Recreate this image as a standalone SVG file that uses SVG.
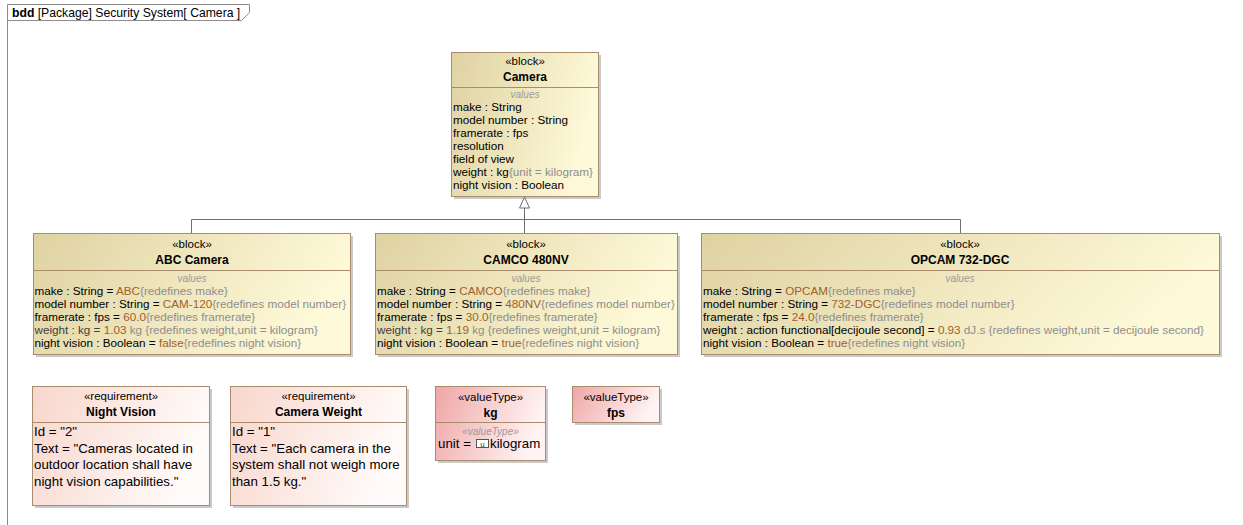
<svg xmlns="http://www.w3.org/2000/svg" width="1243" height="525" viewBox="0 0 1243 525">
  <defs>
    <linearGradient id="gBlock" x1="0" y1="0" x2="1" y2="0.25">
      <stop offset="0" stop-color="#DFD2A2"/>
      <stop offset="1" stop-color="#FEF9D8"/>
    </linearGradient>
    <linearGradient id="gReq" x1="0" y1="0" x2="1" y2="0.25">
      <stop offset="0" stop-color="#F8D6CC"/>
      <stop offset="1" stop-color="#FFFBFA"/>
    </linearGradient>
    <linearGradient id="gVal" x1="0" y1="0" x2="1" y2="0.25">
      <stop offset="0" stop-color="#EFA6A6"/>
      <stop offset="1" stop-color="#FFF3F3"/>
    </linearGradient>
    <marker id="genHead" markerWidth="14" markerHeight="12" refX="12" refY="6" orient="auto" markerUnits="userSpaceOnUse">
      <path d="M1,1 L12,6 L1,11 Z" fill="#FFFFFF" stroke="#6E6E6E" stroke-width="1"/>
    </marker>
  </defs>
  <style>
    text { font-family: "Liberation Sans", Arial, sans-serif; fill: #000; }
    .st { font-size: 11.5px; text-anchor: middle; }
    .ttl { font-size: 12px; font-weight: bold; text-anchor: middle; }
    .cmp { font-size: 10px; font-style: italic; fill: #9A9A9A; text-anchor: middle; }
    .p { font-size: 11.7px; }
    .rq { font-size: 13.3px; }
    .v { fill: #A0602A; }
    .g { fill: #8E8E8E; }
    .box { stroke: #A88C6C; stroke-width: 1; }
    .blk { fill: url(#gBlock); }
    .req { fill: url(#gReq); }
    .val { fill: url(#gVal); }
    .shd { fill: #8A8A8A; opacity: 0.45; }
    .div { stroke: #A88C6C; stroke-width: 1; }
    .conn { fill: none; stroke: #6E6E6E; stroke-width: 1; }
    .frame { fill: none; stroke: #8C8C8C; stroke-width: 1; }
  </style>

  <rect x="0" y="0" width="1243" height="525" fill="#FFFFFF"/>

  <!-- diagram frame with its name tab -->
  <g id="frame">
    <path class="frame" d="M7.5,525 L7.5,4.5 L249.5,4.5 L249.5,12.5 L241.5,20.5 L7.5,20.5"/>
    <text x="12" y="16.5" style="font-size:12.2px"><tspan font-weight="bold">bdd</tspan> [Package] Security System[ Camera ]</text>
  </g>

  <!-- generalization connectors -->
  <g id="connectors">
    <path class="conn" d="M191.5,233 L191.5,219.5 L960.5,219.5 L960.5,233"/>
    <path class="conn" d="M524.5,233 L524.5,197" marker-end="url(#genHead)"/>
  </g>

  <g id="camera">
    <rect class="shd" x="454" y="55" width="147" height="144"/>
    <rect class="box blk" x="451.5" y="52.5" width="147" height="144"/>
    <line class="div" x1="451.5" y1="87.5" x2="598.5" y2="87.5"/>
    <text class="st" x="525" y="65">«block»</text>
    <text class="ttl" x="525" y="81">Camera</text>
    <text class="cmp" x="525" y="98">values</text>
    <text class="p" x="453" y="111">make : String</text>
    <text class="p" x="453" y="124">model number : String</text>
    <text class="p" x="453" y="137">framerate : fps</text>
    <text class="p" x="453" y="150">resolution</text>
    <text class="p" x="453" y="163">field of view</text>
    <text class="p" x="453" y="176">weight : kg<tspan class="g">{unit = kilogram}</tspan></text>
    <text class="p" x="453" y="189">night vision : Boolean</text>
  </g>

  <g id="abc-camera">
    <rect class="shd" x="36" y="236" width="317" height="121"/>
    <rect class="box blk" x="33.5" y="233.5" width="317" height="121"/>
    <line class="div" x1="33.5" y1="270.5" x2="350.5" y2="270.5"/>
    <text class="st" x="192" y="248">«block»</text>
    <text class="ttl" x="192" y="264">ABC Camera</text>
    <text class="cmp" x="192" y="282">values</text>
    <text class="p" x="34.5" y="295">make : String = <tspan class="v">ABC</tspan><tspan class="g">{redefines make}</tspan></text>
    <text class="p" x="34.5" y="308">model number : String = <tspan class="v">CAM-120</tspan><tspan class="g">{redefines model number}</tspan></text>
    <text class="p" x="34.5" y="321">framerate : fps = <tspan class="v">60.0</tspan><tspan class="g">{redefines framerate}</tspan></text>
    <text class="p" x="34.5" y="334"><tspan fill="#404040">weight : kg = </tspan><tspan class="v">1.03</tspan><tspan class="g"> kg {redefines weight,unit = kilogram}</tspan></text>
    <text class="p" x="34.5" y="347">night vision : Boolean = <tspan class="v">false</tspan><tspan class="g">{redefines night vision}</tspan></text>
  </g>

  <g id="camco-480nv">
    <rect class="shd" x="378" y="236" width="302" height="121"/>
    <rect class="box blk" x="375.5" y="233.5" width="302" height="121"/>
    <line class="div" x1="375.5" y1="270.5" x2="677.5" y2="270.5"/>
    <text class="st" x="526" y="248">«block»</text>
    <text class="ttl" x="526" y="264">CAMCO 480NV</text>
    <text class="cmp" x="526" y="282">values</text>
    <text class="p" x="377" y="295">make : String = <tspan class="v">CAMCO</tspan><tspan class="g">{redefines make}</tspan></text>
    <text class="p" x="377" y="308">model number : String = <tspan class="v">480NV</tspan><tspan class="g">{redefines model number}</tspan></text>
    <text class="p" x="377" y="321">framerate : fps = <tspan class="v">30.0</tspan><tspan class="g">{redefines framerate}</tspan></text>
    <text class="p" x="377" y="334"><tspan fill="#404040">weight : kg = </tspan><tspan class="v">1.19</tspan><tspan class="g"> kg {redefines weight,unit = kilogram}</tspan></text>
    <text class="p" x="377" y="347">night vision : Boolean = <tspan class="v">true</tspan><tspan class="g">{redefines night vision}</tspan></text>
  </g>

  <g id="opcam-732-dgc">
    <rect class="shd" x="704" y="236" width="518" height="121"/>
    <rect class="box blk" x="701.5" y="233.5" width="518" height="121"/>
    <line class="div" x1="701.5" y1="270.5" x2="1219.5" y2="270.5"/>
    <text class="st" x="960" y="248">«block»</text>
    <text class="ttl" x="960" y="264">OPCAM 732-DGC</text>
    <text class="cmp" x="960" y="282">values</text>
    <text class="p" x="703" y="295">make : String = <tspan class="v">OPCAM</tspan><tspan class="g">{redefines make}</tspan></text>
    <text class="p" x="703" y="308">model number : String = <tspan class="v">732-DGC</tspan><tspan class="g">{redefines model number}</tspan></text>
    <text class="p" x="703" y="321">framerate : fps = <tspan class="v">24.0</tspan><tspan class="g">{redefines framerate}</tspan></text>
    <text class="p" x="703" y="334">weight : action functional[decijoule second] = <tspan class="v">0.93</tspan><tspan class="g"> dJ.s {redefines weight,unit = decijoule second}</tspan></text>
    <text class="p" x="703" y="347">night vision : Boolean = <tspan class="v">true</tspan><tspan class="g">{redefines night vision}</tspan></text>
  </g>

  <g id="req-night-vision">
    <rect class="shd" x="35" y="389" width="177" height="119"/>
    <rect class="box req" x="32.5" y="386.5" width="177" height="119"/>
    <line class="div" x1="32.5" y1="422.5" x2="209.5" y2="422.5"/>
    <text class="st" x="121" y="400">«requirement»</text>
    <text class="ttl" x="121" y="416">Night Vision</text>
    <text class="rq" x="34" y="436">Id = "2"</text>
    <text class="rq" x="34" y="452.5">Text = "Cameras located in</text>
    <text class="rq" x="34" y="469">outdoor location shall have</text>
    <text class="rq" x="34" y="485.5">night vision capabilities."</text>
  </g>

  <g id="req-camera-weight">
    <rect class="shd" x="233" y="389" width="176" height="119"/>
    <rect class="box req" x="230.5" y="386.5" width="176" height="119"/>
    <line class="div" x1="230.5" y1="422.5" x2="406.5" y2="422.5"/>
    <text class="st" x="318.5" y="400">«requirement»</text>
    <text class="ttl" x="318.5" y="416">Camera Weight</text>
    <text class="rq" x="232" y="436">Id = "1"</text>
    <text class="rq" x="232" y="452.5">Text = "Each camera in the</text>
    <text class="rq" x="232" y="469">system shall not weigh more</text>
    <text class="rq" x="232" y="485.5">than 1.5 kg."</text>
  </g>

  <g id="vt-kg">
    <rect class="shd" x="438" y="389" width="110" height="74"/>
    <rect class="box val" x="435.5" y="386.5" width="110" height="74"/>
    <line class="div" x1="435.5" y1="422.5" x2="545.5" y2="422.5"/>
    <text class="st" x="490.5" y="401">«valueType»</text>
    <text class="ttl" x="490.5" y="417">kg</text>
    <text class="cmp" x="490.5" y="435">«valueType»</text>
    <text class="rq" x="438" y="448">unit = </text>
    <rect x="476.5" y="439.5" width="12" height="8" fill="#FFFFFF" stroke="#555555" stroke-width="1"/>
    <text x="482.5" y="446.5" style="font-size:8px;text-anchor:middle;fill:#333333">u</text>
    <text class="rq" x="490" y="448">kilogram</text>
  </g>

  <g id="vt-fps">
    <rect class="shd" x="575" y="389" width="87" height="36"/>
    <rect class="box val" x="572.5" y="386.5" width="87" height="36"/>
    <text class="st" x="616" y="401">«valueType»</text>
    <text class="ttl" x="616" y="417">fps</text>
  </g>
</svg>
